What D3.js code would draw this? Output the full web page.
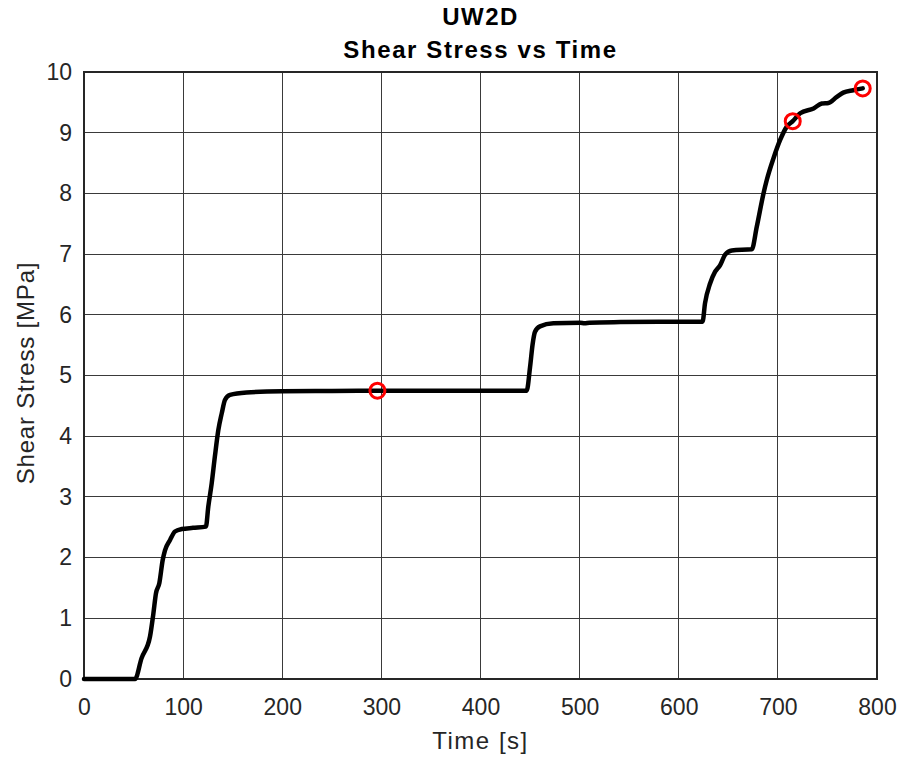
<!DOCTYPE html>
<html>
<head>
<meta charset="utf-8">
<script src="https://cdn.jsdelivr.net/npm/d3@7"></script>
<style>
  html, body { margin: 0; padding: 0; background: #fff; }
  text { font-family: "Liberation Sans", Arial, Helvetica, sans-serif; }
</style>
</head>
<body>
<svg id="chart" width="902" height="759"></svg>
<script>
// Time (s) and shear stress (MPa) samples of the UW2D test
const timeS = [0, 20, 40, 51.5, 58, 66.6, 70, 72.6, 76, 79.4, 81.7, 86.8, 91.8, 98.6, 110, 123,
  125.4, 128.8, 132, 135.5, 139, 142.3, 147.3, 164, 200, 250, 300, 350, 400, 446.6,
  450, 452.7, 455, 460, 473.6, 500.5, 505, 510, 541, 580, 624,
  626.5, 631.7, 636.7, 641.8, 646.8, 653.5, 673.7,
  678.7, 685.5, 688.8, 695.6, 702.3, 709, 715, 722.5, 736, 744.3, 751, 759.5, 766, 776, 785.6];
const stressMPa = [0, 0, 0, 0, 0.34, 0.7, 1.08, 1.41, 1.58, 1.96, 2.12, 2.29, 2.43, 2.47, 2.49, 2.51,
  2.84, 3.22, 3.66, 4.10, 4.38, 4.60, 4.68, 4.72, 4.74, 4.745, 4.75, 4.75, 4.75, 4.75,
  5.14, 5.53, 5.72, 5.81, 5.86, 5.87, 5.86, 5.87, 5.88, 5.885, 5.885,
  6.19, 6.52, 6.71, 6.82, 6.99, 7.06, 7.08,
  7.45, 8.0, 8.22, 8.58, 8.88, 9.10, 9.19, 9.32, 9.40, 9.48, 9.49, 9.59, 9.66, 9.70, 9.73];
// Highlighted samples (red circles)
const markTime = [296, 715, 785.6];
const markStress = [4.75, 9.19, 9.73];

const xTicks = [0, 100, 200, 300, 400, 500, 600, 700, 800];
const yTicks = [0, 1, 2, 3, 4, 5, 6, 7, 8, 9, 10];

const titleLines = ["UW2D", "Shear Stress vs Time"];
const xLabel = "Time [s]";
const yLabel = "Shear Stress [MPa]";

const svg = d3.select("#chart");
const plotL = 84, plotR = 877, plotT = 72, plotB = 679;

const x = d3.scaleLinear().domain([0, 800]).range([plotL, plotR]);
const y = d3.scaleLinear().domain([0, 10]).range([plotB, plotT]);

// Grid
const gridColor = "#3a3a3a";
svg.append("g").selectAll("line").data(xTicks).join("line")
  .attr("x1", d => x(d)).attr("x2", d => x(d))
  .attr("y1", plotT).attr("y2", plotB)
  .attr("stroke", gridColor).attr("stroke-width", 1).attr("shape-rendering", "crispEdges");
svg.append("g").selectAll("line").data(yTicks).join("line")
  .attr("x1", plotL).attr("x2", plotR)
  .attr("y1", d => y(d)).attr("y2", d => y(d))
  .attr("stroke", gridColor).attr("stroke-width", 1).attr("shape-rendering", "crispEdges");

// Axes (labels only, frame drawn separately)
const xAxis = d3.axisBottom(x).tickValues(xTicks).tickSize(0).tickPadding(20).tickFormat(d3.format("d"));
const yAxis = d3.axisLeft(y).tickValues(yTicks).tickSize(0).tickPadding(12).tickFormat(d3.format("d"));
const gx = svg.append("g").attr("transform", `translate(0,${plotB})`).call(xAxis);
const gy = svg.append("g").attr("transform", `translate(${plotL},0)`).call(yAxis);
[gx, gy].forEach(g => {
  g.select(".domain").remove();
  g.selectAll("text").attr("font-size", 23).attr("fill", "#262626")
    .attr("font-family", "\"Liberation Sans\", Arial, sans-serif");
});
gx.selectAll("text").attr("dy", "0.71em");

// Frame
svg.append("rect").attr("x", plotL).attr("y", plotT)
  .attr("width", plotR - plotL).attr("height", plotB - plotT)
  .attr("fill", "none").attr("stroke", "#262626").attr("stroke-width", 1.2)
  .attr("shape-rendering", "crispEdges");

// Stress curve
const pts = timeS.map((t, i) => [t, stressMPa[i]]);
const line = d3.line().x(d => x(d[0])).y(d => y(d[1])).curve(d3.curveMonotoneX);
svg.append("path").datum(pts)
  .attr("d", line)
  .attr("fill", "none").attr("stroke", "#000").attr("stroke-width", 4.5)
  .attr("stroke-linejoin", "round").attr("stroke-linecap", "round");

// Highlight circles
svg.append("g").selectAll("circle").data(markTime.map((t, i) => [t, markStress[i]])).join("circle")
  .attr("cx", d => x(d[0])).attr("cy", d => y(d[1])).attr("r", 7.5)
  .attr("fill", "none").attr("stroke", "#ff0000").attr("stroke-width", 3);

// Titles
const cx = (plotL + plotR) / 2;
svg.append("text").attr("x", cx).attr("y", 25).attr("text-anchor", "middle")
  .attr("font-size", 24).attr("font-weight", "bold").attr("letter-spacing", 1.4)
  .attr("fill", "#000").text(titleLines[0]);
svg.append("text").attr("x", cx).attr("y", 58).attr("text-anchor", "middle")
  .attr("font-size", 24).attr("font-weight", "bold").attr("letter-spacing", 1.6)
  .attr("fill", "#000").text(titleLines[1]);

// Axis labels
svg.append("text").attr("x", cx).attr("y", 749).attr("text-anchor", "middle")
  .attr("font-size", 24).attr("letter-spacing", 1.5).attr("fill", "#262626").text(xLabel);
svg.append("text").attr("transform", `translate(34,373) rotate(-90)`)
  .attr("text-anchor", "middle").attr("font-size", 24).attr("letter-spacing", 0.8)
  .attr("fill", "#262626").text(yLabel);
</script>
</body>
</html>
